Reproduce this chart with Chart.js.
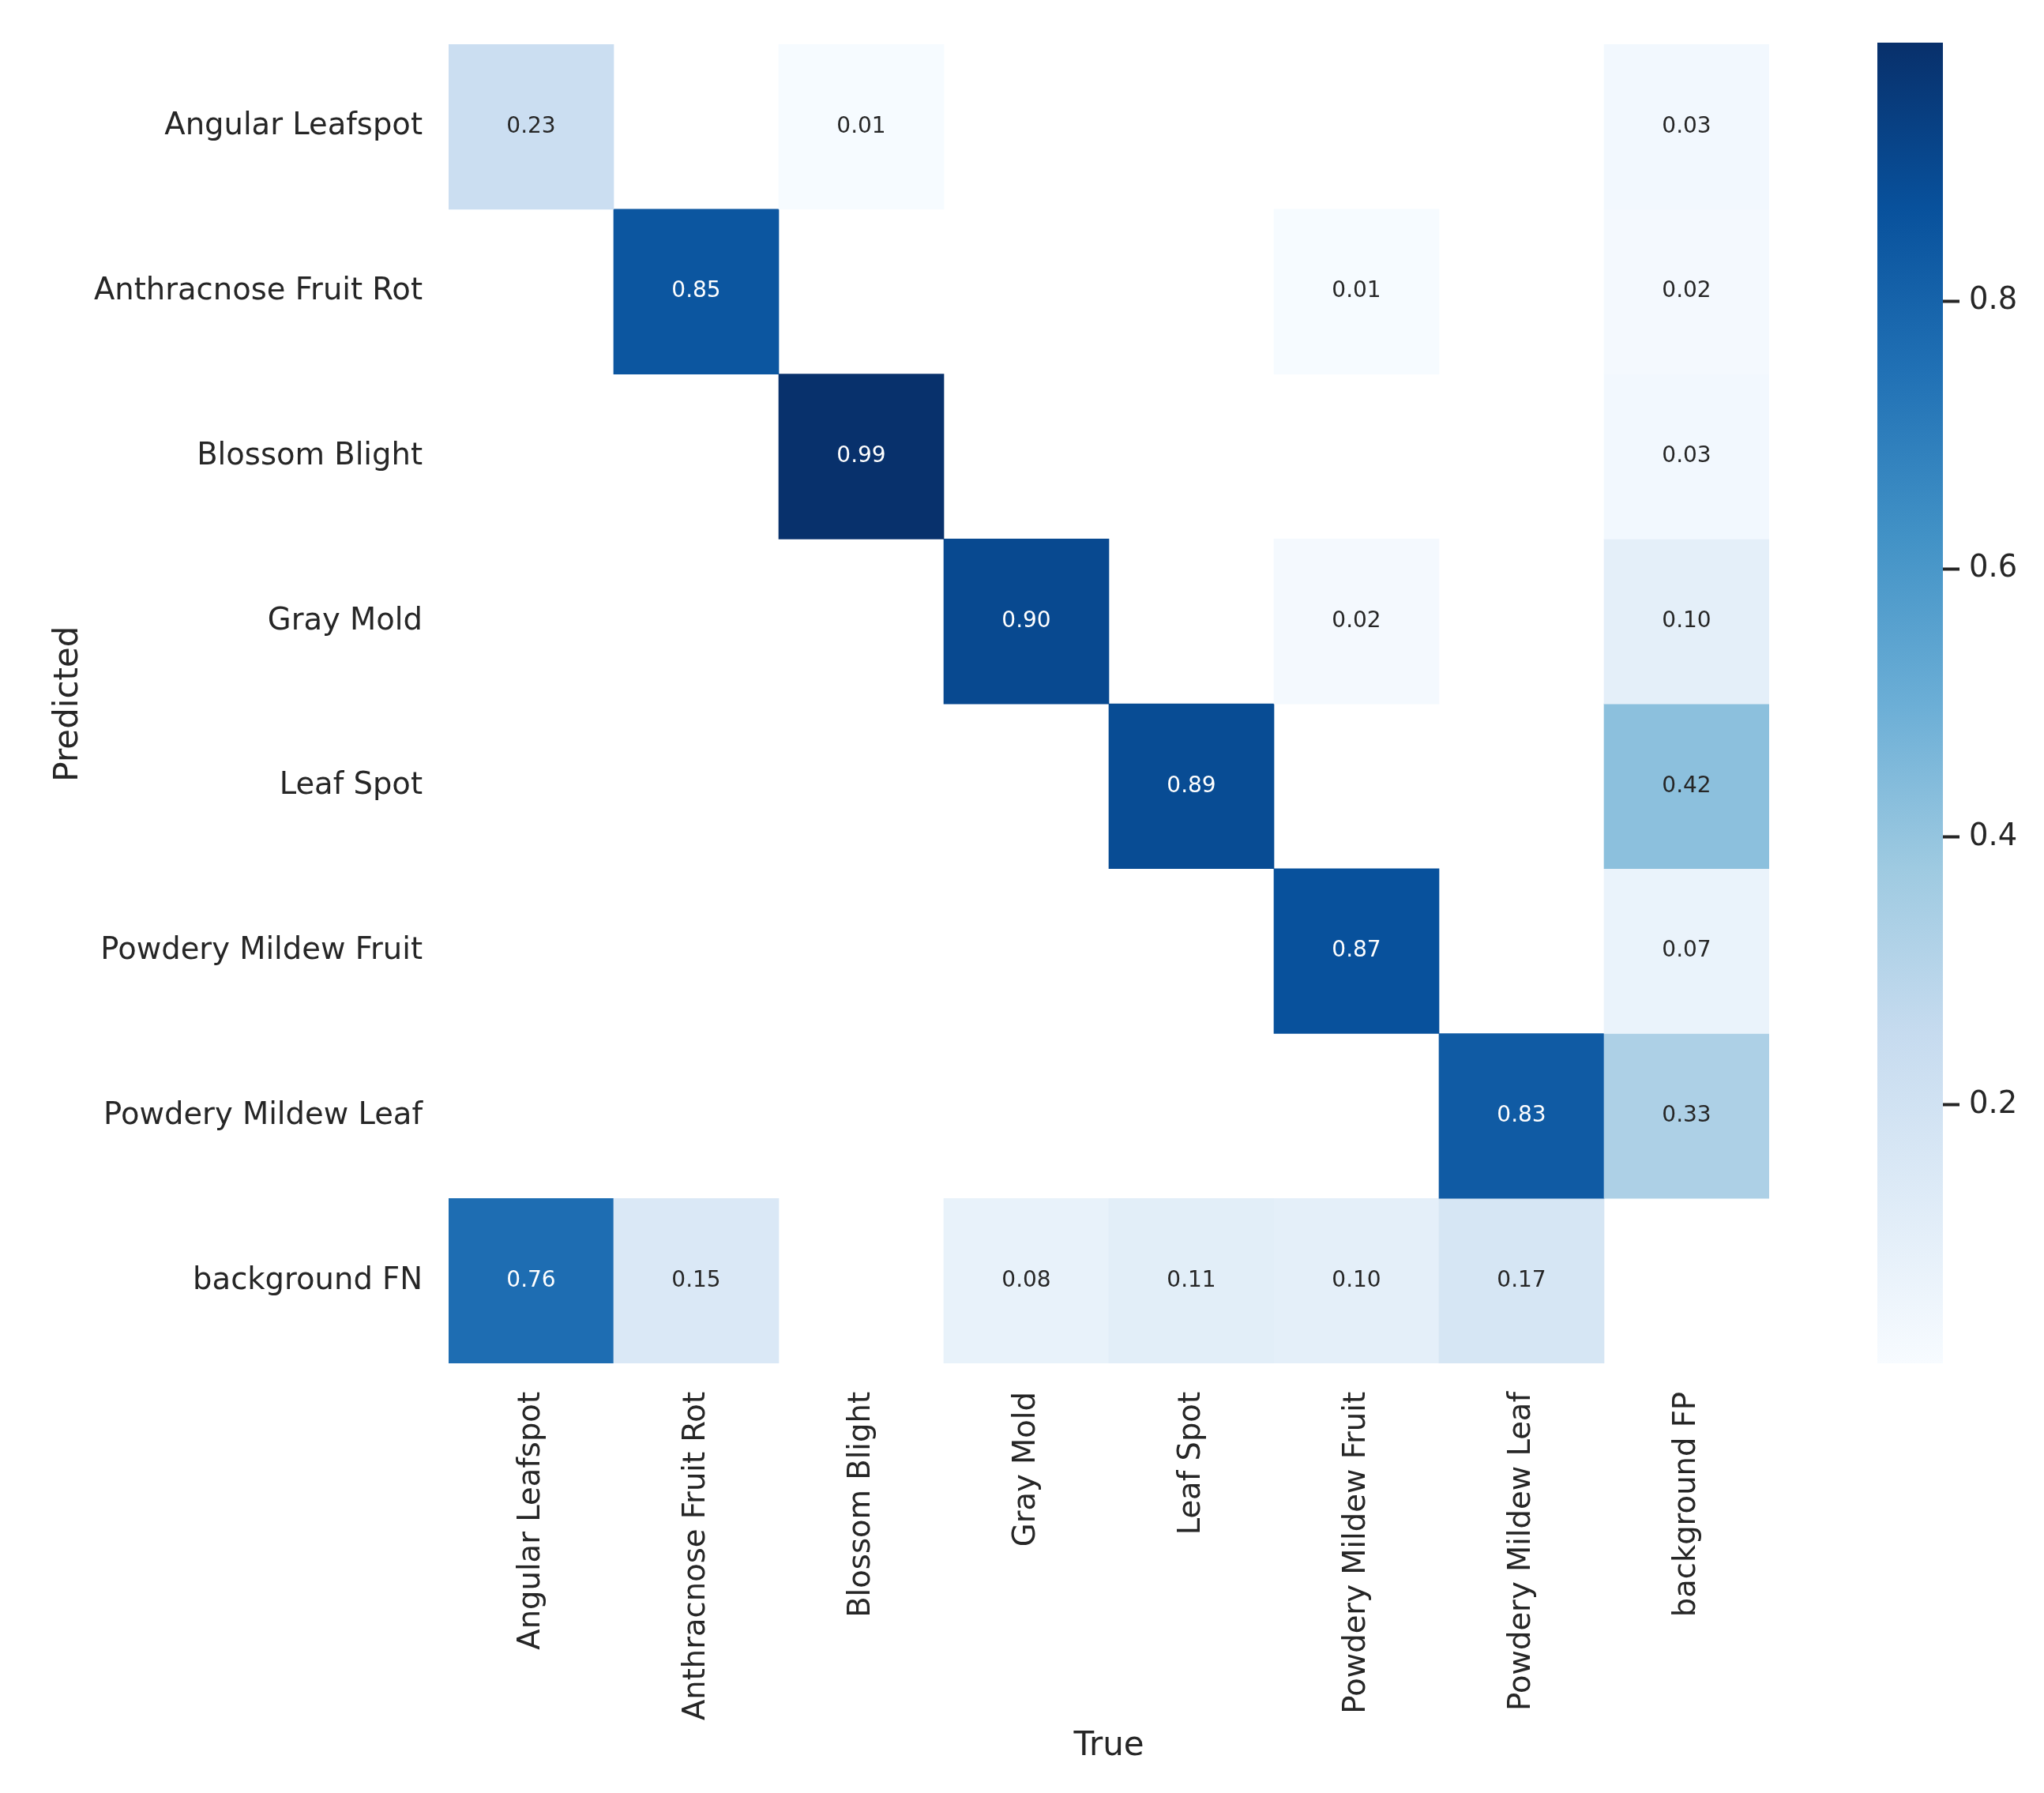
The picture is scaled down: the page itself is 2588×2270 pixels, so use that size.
<!DOCTYPE html>
<html>
<head>
<meta charset="utf-8">
<script src="https://cdn.jsdelivr.net/npm/chart.js@4/dist/chart.umd.min.js"></script>
<style>
  html, body { margin: 0; padding: 0; background: #fff; }
  #wrap { position: relative; width: 2588px; height: 2270px; }
  canvas { position: absolute; top: 0; }
  #matrix { left: 0; }
  #colorbar { left: 2300px; }
</style>
</head>
<body>
<div id="wrap">
  <canvas id="matrix" width="2300" height="2270"></canvas>
  <canvas id="colorbar" width="288" height="2270"></canvas>
</div>
<script>
// columns (True) and rows (Predicted)
const trueLabels = ['Angular Leafspot', 'Anthracnose Fruit Rot', 'Blossom Blight', 'Gray Mold',
    'Leaf Spot', 'Powdery Mildew Fruit', 'Powdery Mildew Leaf', 'background FP'];
const predictedLabels = ['Angular Leafspot', 'Anthracnose Fruit Rot', 'Blossom Blight', 'Gray Mold',
    'Leaf Spot', 'Powdery Mildew Fruit', 'Powdery Mildew Leaf', 'background FN'];

// one row per predicted class, 0 = empty cell
const rowAngularLeafspot    = [0.23, 0,    0.01, 0,    0,    0,    0,    0.03];
const rowAnthracnose        = [0,    0.85, 0,    0,    0,    0.01, 0,    0.02];
const rowBlossomBlight      = [0,    0,    0.99, 0,    0,    0,    0,    0.03];
const rowGrayMold           = [0,    0,    0,    0.90, 0,    0.02, 0,    0.10];
const rowLeafSpot           = [0,    0,    0,    0,    0.89, 0,    0,    0.42];
const rowPowderyFruit       = [0,    0,    0,    0,    0,    0.87, 0,    0.07];
const rowPowderyLeaf        = [0,    0,    0,    0,    0,    0,    0.83, 0.33];
const rowBackgroundFN       = [0.76, 0.15, 0,    0.08, 0.11, 0.10, 0.17, 0];

const rows = [rowAngularLeafspot, rowAnthracnose, rowBlossomBlight, rowGrayMold,
    rowLeafSpot, rowPowderyFruit, rowPowderyLeaf, rowBackgroundFN];

// colour scale range and colorbar ticks
const colorMin = 0.007;
const colorMax = 0.993;
const colorbarTicks = [0.2, 0.4, 0.6, 0.8];

const FONT = 'DejaVu Sans';
const TEXT = '#262626';

// matplotlib "Blues"
const blues = ['#f7fbff', '#deebf7', '#c6dbef', '#9ecae1', '#6baed6',
    '#4292c6', '#2171b5', '#08519c', '#08306b'];

function hexToRgb(h) {
    return [parseInt(h.slice(1, 3), 16), parseInt(h.slice(3, 5), 16), parseInt(h.slice(5, 7), 16)];
}

function bluesAt(t) {
    t = Math.max(0, Math.min(1, t));
    const pos = t * (blues.length - 1);
    const i = Math.min(Math.floor(pos), blues.length - 2);
    const f = pos - i;
    const a = hexToRgb(blues[i]), b = hexToRgb(blues[i + 1]);
    return a.map((c, k) => Math.round(c + (b[k] - c) * f));
}

function colorFor(v) {
    const c = bluesAt((v - colorMin) / (colorMax - colorMin));
    return `rgb(${c[0]}, ${c[1]}, ${c[2]})`;
}

function textColorFor(v) {
    // same rule as seaborn: white text on dark cells
    const lin = bluesAt((v - colorMin) / (colorMax - colorMin)).map(c => {
        c = c / 255;
        return c <= 0.03928 ? c / 12.92 : Math.pow((c + 0.055) / 1.055, 2.4);
    });
    const lum = 0.2126 * lin[0] + 0.7152 * lin[1] + 0.0722 * lin[2];
    return lum < 0.408 ? '#ffffff' : TEXT;
}

const cellLabels = {
    id: 'cellLabels',
    afterDatasetsDraw(chart) {
        const ctx = chart.ctx;
        ctx.save();
        ctx.font = `28px "${FONT}"`;
        ctx.textAlign = 'center';
        ctx.textBaseline = 'middle';
        chart.data.datasets.forEach((ds, di) => {
            const meta = chart.getDatasetMeta(di);
            meta.data.forEach((bar, i) => {
                const v = rows[di][i];
                if (!v) return;
                const p = bar.getCenterPoint();
                ctx.fillStyle = textColorFor(v);
                ctx.fillText(v.toFixed(2), p.x, p.y);
            });
        });
        ctx.restore();
    }
};

new Chart(document.getElementById('matrix'), {
    type: 'bar',
    data: {
        labels: trueLabels,
        datasets: rows.map((row, r) => ({
            label: predictedLabels[r],
            data: row.map(v => (v ? [r, r + 1] : null)),
            backgroundColor: row.map(v => (v ? colorFor(v) : 'rgba(0,0,0,0)')),
            borderWidth: 0,
            barPercentage: 1,
            categoryPercentage: 1,
            grouped: false
        }))
    },
    options: {
        responsive: false,
        animation: false,
        devicePixelRatio: 1,
        layout: { padding: { top: 54, right: 60, left: 0, bottom: 0 } },
        plugins: { legend: { display: false }, tooltip: { enabled: false } },
        scales: {
            x: {
                grid: { display: false, drawTicks: false },
                border: { display: false },
                ticks: {
                    autoSkip: false, minRotation: 90, maxRotation: 90, padding: 36,
                    color: TEXT, font: { family: FONT, size: 38.5 }
                },
                title: {
                    display: true, text: 'True', color: TEXT,
                    font: { family: FONT, size: 42 }, padding: { top: 0, bottom: 34 }
                },
                afterFit(scale) { scale.height = 544; }
            },
            y: {
                min: 0, max: 8, reverse: true,
                grid: { display: false, drawTicks: false },
                border: { display: false },
                afterBuildTicks(scale) {
                    scale.ticks = predictedLabels.map((_, i) => ({ value: i + 0.5 }));
                },
                ticks: {
                    padding: 33, color: TEXT, font: { family: FONT, size: 38.5 },
                    callback: (value, index) => predictedLabels[index]
                },
                title: {
                    display: true, text: 'Predicted', color: TEXT,
                    font: { family: FONT, size: 42 }, padding: { top: 62, bottom: 0 }
                },
                afterFit(scale) { scale.width = 568; }
            }
        }
    },
    plugins: [cellLabels]
});

new Chart(document.getElementById('colorbar'), {
    type: 'bar',
    data: {
        labels: [''],
        datasets: [{
            data: [[colorMin, colorMax]],
            borderWidth: 0,
            barPercentage: 1,
            categoryPercentage: 1,
            backgroundColor(context) {
                const area = context.chart.chartArea;
                if (!area) return blues[0];
                const g = context.chart.ctx.createLinearGradient(0, area.bottom, 0, area.top);
                blues.forEach((c, i) => g.addColorStop(i / (blues.length - 1), c));
                return g;
            }
        }]
    },
    options: {
        responsive: false,
        animation: false,
        devicePixelRatio: 1,
        layout: { padding: { top: 54, right: 0, left: 77, bottom: 544 } },
        plugins: { legend: { display: false }, tooltip: { enabled: false } },
        scales: {
            x: { display: false },
            y: {
                position: 'right',
                min: colorMin, max: colorMax,
                grid: {
                    display: true, drawOnChartArea: false, drawTicks: true,
                    tickLength: 21, tickWidth: 4, tickColor: TEXT
                },
                border: { display: false },
                afterBuildTicks(scale) {
                    scale.ticks = colorbarTicks.map(v => ({ value: v }));
                },
                ticks: {
                    padding: 12, color: TEXT, font: { family: FONT, size: 38.5 },
                    callback: v => v.toFixed(1)
                },
                afterFit(scale) { scale.width = 128; }
            }
        }
    }
});
</script>
</body>
</html>
